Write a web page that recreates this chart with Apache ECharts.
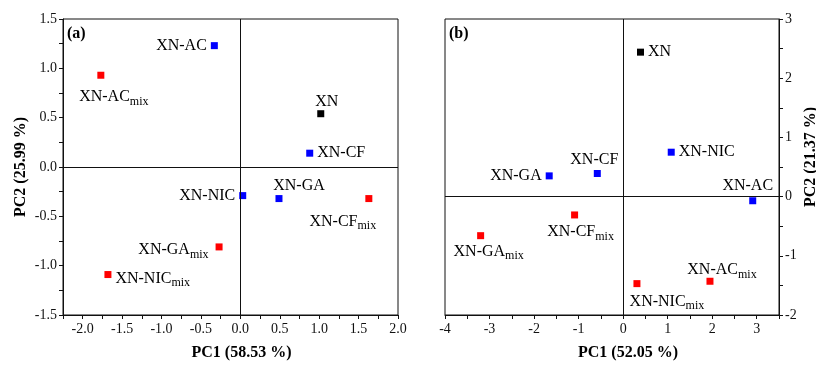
<!DOCTYPE html>
<html>
<head>
<meta charset="utf-8">
<script src="https://cdn.jsdelivr.net/npm/echarts@6/dist/echarts.min.js"></script>
<style>
  html, body { margin: 0; padding: 0; background: #fff; }
  #chart { width: 816px; height: 365px; }
</style>
</head>
<body>
<div id="chart"></div>
<script>
// PCA score plots, panels (a) and (b).
const samples = ['XN', 'XN-AC', 'XN-CF', 'XN-GA', 'XN-NIC', 'XN-ACmix', 'XN-CFmix', 'XN-GAmix', 'XN-NICmix'];
const groups = ['pure', 'coformer', 'coformer', 'coformer', 'coformer', 'mix', 'mix', 'mix', 'mix'];

const pc1A = [1.02, -0.33, 0.88, 0.49, 0.03, -1.77, 1.63, -0.27, -1.68];
const pc2A = [0.54, 1.23, 0.14, -0.32, -0.29, 0.93, -0.32, -0.81, -1.09];

const pc1B = [0.39, 2.91, -0.58, -1.66, 1.08, 1.95, -1.09, -3.20, 0.31];
const pc2B = [2.44, -0.07, 0.39, 0.35, 0.75, -1.43, -0.31, -0.66, -1.47];

const axisNames = {
  xA: 'PC1 (58.53 %)', yA: 'PC2 (25.99 %)',
  xB: 'PC1 (52.05 %)', yB: 'PC2 (21.37 %)'
};

const colors = { pure: '#000000', coformer: '#0000ff', mix: '#ff0000' };
const serif = '"Liberation Serif", "DejaVu Serif", serif';

// label placement per point: [position, dx, dy]
const placeA = {
  'XN': ['top', 6, 4], 'XN-AC': ['left', 0, 0], 'XN-CF': ['right', 0, 0],
  'XN-GA': ['top', 20, 3], 'XN-NIC': ['left', 0, 0],
  'XN-ACmix': ['bottom', 13, 4], 'XN-CFmix': ['bottom', -26, 5],
  'XN-GAmix': ['left', -3, 3], 'XN-NICmix': ['right', 0, 4]
};
const placeB = {
  'XN': ['right', 0, 0], 'XN-AC': ['top', -5, 1], 'XN-CF': ['top', -3, 2],
  'XN-GA': ['left', 0, 0], 'XN-NIC': ['right', 0, 0],
  'XN-ACmix': ['top', 12, 7], 'XN-CFmix': ['bottom', 6, -1],
  'XN-GAmix': ['bottom', 8, -2], 'XN-NICmix': ['bottom', 30, 0]
};

function fmtName(n) {
  return n.endsWith('mix') ? n.slice(0, -3) + '{m|mix}' : n;
}

function buildData(xs, ys, place) {
  return samples.map(function (n, i) {
    const p = place[n];
    return {
      name: n,
      value: [xs[i], ys[i]],
      itemStyle: { color: colors[groups[i]], opacity: 1 },
      label: { position: p[0], offset: [p[1], p[2]], distance: 4 }
    };
  });
}

function halfFmt(v) {
  return Math.abs(v * 2 - Math.round(v * 2)) < 1e-6 ? v.toFixed(1) : '';
}
function intFmt(v) {
  return Math.abs(v - Math.round(v)) < 1e-6 ? String(Math.round(v)) : '';
}

const tickFont = { fontFamily: serif, fontSize: 14, color: '#111' };

function axisBase(extra) {
  return Object.assign({
    type: 'value',
    nameLocation: 'middle',
    axisLine: { onZero: false, lineStyle: { color: '#111', width: 1 } },
    axisTick: { inside: false, length: 4, lineStyle: { color: '#111' } },
    splitLine: { show: false }
  }, extra);
}

function nameStyle(pad) {
  return { fontFamily: serif, fontSize: 16, fontWeight: 'bold', color: '#000', padding: pad };
}

const labelCfg = {
  show: true,
  fontFamily: serif,
  fontSize: 16,
  color: '#000',
  formatter: function (p) { return fmtName(p.name); },
  rich: { m: { fontFamily: serif, fontSize: 12, color: '#000', padding: [9, 0, 0, 0] } }
};

const zeroLines = {
  silent: true,
  symbol: 'none',
  label: { show: false },
  lineStyle: { color: '#111', width: 1, type: 'solid' },
  data: [{ xAxis: 0 }, { yAxis: 0 }]
};

const chart = echarts.init(document.getElementById('chart'));
chart.setOption({
  animation: false,
  backgroundColor: '#fff',
  grid: [
    { left: 63, top: 19, width: 335, height: 296, show: true, borderColor: '#111', borderWidth: 1, outerBoundsMode: 'none' },
    { left: 445, top: 19, width: 334, height: 296, show: true, borderColor: '#111', borderWidth: 1, outerBoundsMode: 'none' }
  ],
  xAxis: [
    axisBase({ gridIndex: 0, min: -2.25, max: 2.0, interval: 0.25, name: axisNames.xA, nameGap: 30,
      nameTextStyle: nameStyle([0, 0, 0, 22]),
      axisLabel: Object.assign({ margin: 7, formatter: halfFmt }, tickFont) }),
    axisBase({ gridIndex: 1, min: -4, max: 3.5, interval: 0.5, name: axisNames.xB, nameGap: 30,
      nameTextStyle: nameStyle([0, 0, 0, 32]),
      axisLabel: Object.assign({ margin: 7, formatter: intFmt }, tickFont) })
  ],
  yAxis: [
    axisBase({ gridIndex: 0, min: -1.5, max: 1.5, interval: 0.25, name: axisNames.yA, nameGap: 34, nameRotate: 90,
      nameTextStyle: nameStyle(0),
      axisLabel: Object.assign({ margin: 6, formatter: halfFmt }, tickFont) }),
    axisBase({ gridIndex: 1, position: 'right', min: -2, max: 3, interval: 0.5, name: axisNames.yB, nameGap: 24, nameRotate: 90,
      nameTextStyle: nameStyle([0, 0, 0, 20]),
      axisLabel: Object.assign({ margin: 6, formatter: intFmt }, tickFont) })
  ],
  series: [
    {
      type: 'scatter', xAxisIndex: 0, yAxisIndex: 0,
      symbol: 'rect', symbolSize: 7,
      label: labelCfg,
      data: buildData(pc1A, pc2A, placeA),
      markLine: zeroLines
    },
    {
      type: 'scatter', xAxisIndex: 1, yAxisIndex: 1,
      symbol: 'rect', symbolSize: 7,
      label: labelCfg,
      data: buildData(pc1B, pc2B, placeB),
      markLine: zeroLines
    }
  ],
  graphic: [
    { type: 'text', left: 67, top: 26, style: { text: '(a)', font: 'bold 16px ' + serif, fill: '#000' } },
    { type: 'text', left: 449, top: 26, style: { text: '(b)', font: 'bold 16px ' + serif, fill: '#000' } }
  ]
});
</script>
</body>
</html>
